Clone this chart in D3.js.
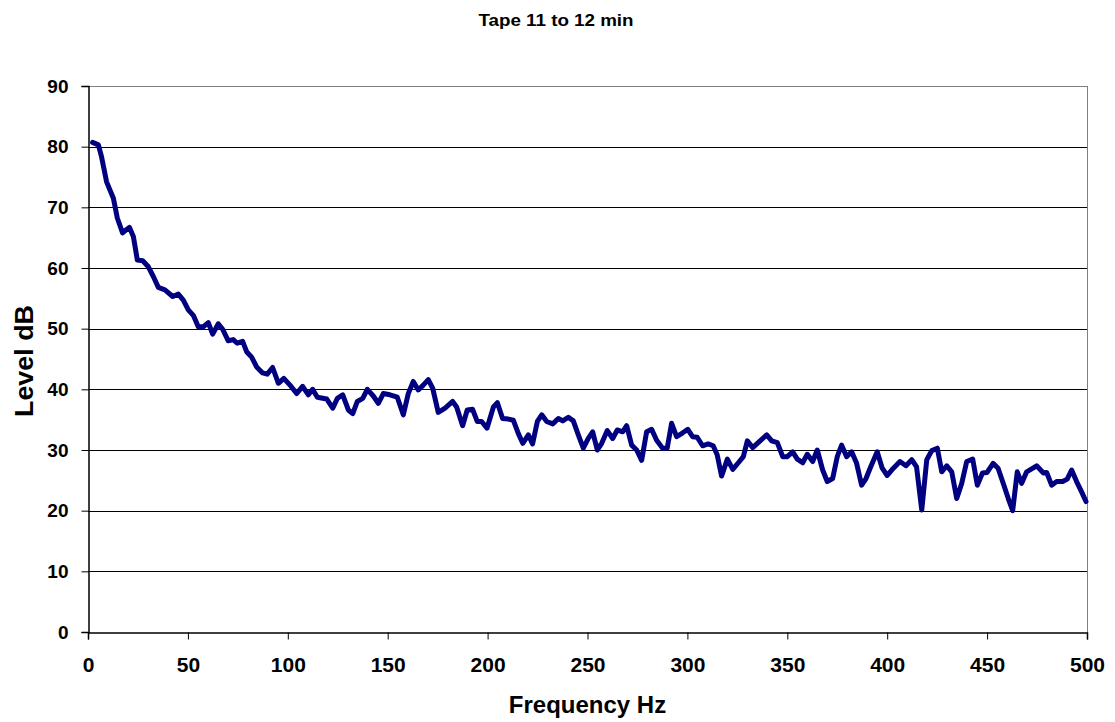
<!DOCTYPE html>
<html><head><meta charset="utf-8">
<script src="https://cdn.jsdelivr.net/npm/d3@7"></script>
<style>body{margin:0;background:#fff}svg{display:block}text{font-family:"Liberation Sans",Arial,sans-serif;font-weight:bold}</style>
</head><body>
<script>
const title = "Tape 11 to 12 min";
const xLabel = "Frequency Hz";
const yLabel = "Level dB";
const xTicks = [0,50,100,150,200,250,300,350,400,450,500];
const yTicks = [0,10,20,30,40,50,60,70,80,90];
const freq = [2.3,5.2,6.8,9.3,12.7,14.7,17.3,20.7,22.7,24.7,
27.4,30.2,32.7,35.2,38.5,42.4,45.2,47.7,50.2,52.7,
55.2,57.7,60.2,62.4,65.2,67.4,70.2,72.7,74.7,77.4,
79.4,81.9,84.4,87.4,89.7,92.4,95.3,98.0,101.1,104.4,
107.4,110.3,112.4,114.8,119.5,122.5,124.8,127.5,130.3,132.5,
134.8,137.5,139.8,142.8,145.3,147.8,151.1,154.8,157.8,160.3,
162.8,165.3,167.8,170.3,172.5,175.3,178.7,182.5,184.5,187.5,
189.8,192.5,194.8,197.0,199.7,202.9,204.9,207.5,210.4,212.9,
215.4,217.6,220.4,222.5,224.9,227.1,229.6,232.6,235.4,237.6,
240.4,242.9,245.4,247.9,250.4,252.6,254.9,257.1,259.9,262.6,
264.9,267.6,269.6,272.1,274.6,277.1,279.6,282.1,284.6,287.6,
289.9,292.1,294.6,297.5,300.2,302.6,304.9,307.6,310.4,312.9,
314.9,317.1,320,322.7,325.5,328,330,332.7,336.4,339.7,
342.2,345,347.7,350,352.7,355,357.7,360,362.7,365,
367.7,370,372.7,375,377.2,379.7,382.2,384.7,387.2,389.4,
391.7,395,397.5,400,403.1,406.4,409.4,412.3,414.7,417.3,
419.8,422.3,425.1,427.3,429.8,432.3,434.8,437.3,439.8,442.8,
445.1,447.7,450,453,455.5,458.4,460.6,462.8,465.1,467.3,
469.8,474.8,478.2,479.8,482.3,484.8,487.8,490.1,492.3,494.8,
497.3,499.5];
const level = [80.7,80.3,78.3,74.2,71.5,68.2,65.8,66.7,65.2,61.3,
61.2,60.2,58.6,56.8,56.4,55.3,55.7,54.7,53.1,52.2,
50.3,50.3,51.0,49.1,50.8,49.9,48.0,48.2,47.6,47.9,
46.2,45.3,43.7,42.7,42.5,43.6,41.0,41.8,40.7,39.3,
40.5,39.1,40.0,38.7,38.4,36.9,38.5,39.1,36.6,36.0,
38.0,38.5,40.0,38.9,37.7,39.3,39.1,38.7,35.8,39.3,
41.3,39.9,40.7,41.6,40.2,36.2,36.9,38.0,37.1,34.0,
36.6,36.7,34.7,34.7,33.6,37.1,37.8,35.2,35.1,34.9,
32.7,31.1,32.5,31.0,34.7,35.8,34.7,34.3,35.2,34.8,
35.4,34.8,32.5,30.3,31.9,33.0,30.0,31.1,33.2,31.9,
33.3,33.0,34.0,30.8,30.0,28.3,33.0,33.4,31.6,30.3,
30.3,34.4,32.2,32.8,33.4,32.2,32.1,30.7,31.0,30.7,
29.2,25.7,28.5,26.8,27.9,28.9,31.5,30.4,31.5,32.5,
31.5,31.2,28.9,28.9,29.7,28.5,27.9,29.3,28.1,30.0,
26.7,24.8,25.3,28.9,30.8,28.9,29.7,27.8,24.2,25.3,
27.2,29.7,27.0,25.8,27.0,28.1,27.4,28.4,27.2,20.1,
28.4,29.9,30.3,26.4,27.4,26.4,22.0,24.5,28.1,28.5,
24.2,26.2,26.3,27.8,27.0,24.2,22.0,20.0,26.4,24.5,
26.4,27.4,26.2,26.3,24.2,24.8,24.8,25.2,26.7,24.8,
23.1,21.5];

const W = 1115, H = 722;
const m = {left: 88, right: 1087, top: 86, bottom: 632};
const svg = d3.select("body").append("svg").attr("width", W).attr("height", H);
const x = d3.scaleLinear().domain([0, 500]).range([m.left, m.right]);
const y = d3.scaleLinear().domain([0, 90]).range([m.bottom, m.top]);
const FONT = "'Liberation Sans', Arial, sans-serif";

// gridlines
svg.append("g").selectAll("line").data(yTicks.filter(d => d > 0 && d < 90)).join("line")
  .attr("x1", m.left).attr("x2", m.right)
  .attr("y1", d => Math.round(y(d)) + 0.5).attr("y2", d => Math.round(y(d)) + 0.5)
  .attr("stroke", "#000").attr("stroke-width", 1);
// top & right border
svg.append("line").attr("x1", m.left).attr("x2", m.right).attr("y1", m.top + 0.5).attr("y2", m.top + 0.5).attr("stroke", "#808080");
svg.append("line").attr("x1", m.right + 0.5).attr("x2", m.right + 0.5).attr("y1", m.top).attr("y2", m.bottom).attr("stroke", "#808080");

// axes
const xAxis = d3.axisBottom(x).tickValues(xTicks).tickSize(7).tickFormat(d3.format("d"));
const gx = svg.append("g").attr("transform", `translate(0,${m.bottom + 0.5})`).call(xAxis);
gx.select(".domain").attr("stroke", "#000").attr("stroke-width", 1.5);
gx.selectAll(".tick line").attr("stroke", "#000");
gx.selectAll("text").attr("font-size", 21).attr("fill", "#000").attr("font-family", FONT).attr("font-weight", "bold")
  .attr("y", 39.5).attr("dy", 0);

const yAxis = d3.axisLeft(y).tickValues(yTicks).tickSize(7).tickFormat(d3.format("d"));
const gy = svg.append("g").attr("transform", `translate(${m.left + 0.5},0)`).call(yAxis);
gy.select(".domain").attr("stroke", "#000").attr("stroke-width", 1.5);
gy.selectAll(".tick line").attr("stroke", "#000");
gy.selectAll("text").attr("font-size", 19).attr("fill", "#000").attr("font-family", FONT).attr("font-weight", "bold")
  .attr("x", -20);

// line
const data = d3.zip(freq, level);
svg.append("path").datum(data)
  .attr("fill", "none").attr("stroke", "#000080").attr("stroke-width", 5)
  .attr("stroke-linejoin", "round").attr("stroke-linecap", "round")
  .attr("d", d3.line().x(d => x(d[0])).y(d => y(d[1])));

// titles
svg.append("text").attr("x", 556).attr("y", 26).attr("text-anchor", "middle").attr("font-size", 16)
  .attr("textLength", 155).attr("lengthAdjust", "spacingAndGlyphs").text(title);
svg.append("text").attr("x", 587.5).attr("y", 713).attr("text-anchor", "middle").attr("font-size", 24).text(xLabel);
svg.append("text").attr("transform", "translate(32.5,361) rotate(-90)").attr("text-anchor", "middle").attr("font-size", 26)
  .attr("textLength", 112).attr("lengthAdjust", "spacingAndGlyphs").text(yLabel);
</script>
</body></html>
